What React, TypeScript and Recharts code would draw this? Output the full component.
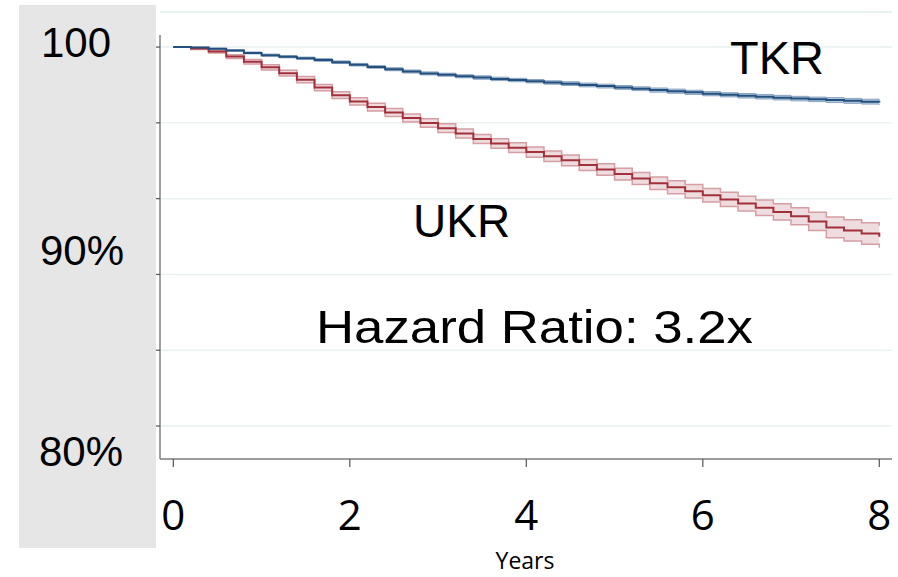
import React from 'react';
import {
  ComposedChart,
  Area,
  Line,
  XAxis,
  YAxis,
  CartesianGrid,
  ReferenceLine,
} from 'recharts';

// Follow-up time (years)
const years = [
  0, 0.2, 0.4, 0.6, 0.8, 1.0, 1.2, 1.4, 1.6, 1.8, 2.0, 2.2, 2.4, 2.6, 2.8, 3.0, 3.2, 3.4, 3.6, 3.8, 4.0,
  4.2, 4.4, 4.6, 4.8, 5.0, 5.2, 5.4, 5.6, 5.8, 6.0, 6.2, 6.4, 6.6, 6.8, 7.0, 7.2, 7.4, 7.6, 7.8, 8.0,
];

// Implant survival (%) – total knee replacement
const tkrSurvival = [
  100, 99.97, 99.91, 99.82, 99.69, 99.57, 99.49, 99.41, 99.32, 99.2, 99.07, 98.95, 98.83, 98.71, 98.61,
  98.54, 98.46, 98.39, 98.32, 98.26, 98.2, 98.13, 98.07, 98.0, 97.94, 97.87, 97.8, 97.73, 97.67, 97.61,
  97.54, 97.48, 97.43, 97.38, 97.33, 97.28, 97.24, 97.2, 97.16, 97.12, 97.08,
];
const tkrLower = [
  100, 99.95, 99.88, 99.78, 99.64, 99.51, 99.43, 99.35, 99.25, 99.13, 99.0, 98.88, 98.75, 98.63, 98.53,
  98.46, 98.38, 98.3, 98.23, 98.17, 98.11, 98.04, 97.97, 97.9, 97.84, 97.77, 97.7, 97.62, 97.56, 97.5,
  97.43, 97.37, 97.31, 97.26, 97.21, 97.16, 97.12, 97.07, 97.03, 96.99, 96.95,
];
const tkrUpper = [
  100, 99.99, 99.94, 99.86, 99.74, 99.63, 99.55, 99.47, 99.39, 99.27, 99.14, 99.02, 98.91, 98.79, 98.69,
  98.62, 98.54, 98.48, 98.41, 98.35, 98.29, 98.22, 98.17, 98.1, 98.04, 97.97, 97.9, 97.84, 97.78, 97.72,
  97.65, 97.59, 97.55, 97.5, 97.45, 97.4, 97.36, 97.33, 97.29, 97.25, 97.21,
];

// Implant survival (%) – unicompartmental knee replacement
const ukrSurvival = [
  100, 99.92, 99.76, 99.5, 99.22, 98.93, 98.62, 98.28, 97.86, 97.46, 97.13, 96.83, 96.55, 96.26, 95.99,
  95.72, 95.44, 95.15, 94.91, 94.69, 94.46, 94.24, 94.02, 93.78, 93.54, 93.3, 93.06, 92.81, 92.6, 92.39,
  92.18, 91.96, 91.74, 91.52, 91.3, 91.07, 90.8, 90.48, 90.32, 90.16, 89.99,
];
const ukrLower = [
  100, 99.87, 99.68, 99.4, 99.1, 98.79, 98.47, 98.12, 97.69, 97.28, 96.94, 96.63, 96.34, 96.05, 95.77,
  95.49, 95.2, 94.91, 94.66, 94.43, 94.19, 93.96, 93.74, 93.49, 93.24, 92.99, 92.74, 92.48, 92.26, 92.04,
  91.82, 91.58, 91.35, 91.11, 90.87, 90.62, 90.32, 89.93, 89.76, 89.59, 89.41,
];
const ukrUpper = [
  100, 99.97, 99.84, 99.6, 99.34, 99.07, 98.77, 98.44, 98.03, 97.64, 97.32, 97.03, 96.76, 96.47, 96.21,
  95.95, 95.68, 95.39, 95.16, 94.95, 94.73, 94.52, 94.3, 94.07, 93.84, 93.61, 93.38, 93.14, 92.94, 92.74,
  92.54, 92.34, 92.13, 91.93, 91.73, 91.52, 91.28, 91.03, 90.88, 90.73, 90.57,
];

const xTicks = [0, 2, 4, 6, 8];
const yTicks = [80, 84, 88, 92, 96, 100];
const yPanelLabels = ['100', '90%', '80%'];
const seriesLabels = ['TKR', 'UKR'];
const hazardText = 'Hazard Ratio: 3.2x';
const xTitle = 'Years';

// Axis extents
const X_MIN = -0.151;
const X_MAX = 8.144;
const Y_MIN = 78.26;
const Y_MAX = 101.85;
const Y_AXIS_TOP = 100.63;

const rows = years.map((t, i) => ({
  t,
  tkr: tkrSurvival[i],
  tkrBand: [tkrLower[i], tkrUpper[i]],
  ukr: ukrSurvival[i],
  ukrBand: [ukrLower[i], ukrUpper[i]],
}));

const GRID = '#e9f1f1';
const AXIS = '#808080';
const TKR_LINE = '#24507f';
const TKR_BAND = '#b3c6da';
const TKR_EDGE = '#8aa4c0';
const UKR_LINE = '#a2303b';
const UKR_BAND = '#eedcde';
const UKR_EDGE = '#d49ea4';

const XTick = (props: any) => {
  const { x, y, payload } = props;
  return (
    <text
      x={x}
      y={y + 61}
      textAnchor="middle"
      fontFamily="'Open Sans', sans-serif"
      fontSize={42}
      fill="#000"
    >
      {payload.value}
    </text>
  );
};

const EmptyTick = () => <g />;

export default function App() {
  return (
    <div style={{ position: 'absolute', left: 0, top: 0, width: 898, height: 577, background: '#fff' }}>
      <div
        style={{
          position: 'absolute',
          left: 19,
          top: 5,
          width: 137,
          height: 543,
          background: '#e6e6e6',
        }}
      />
      <div style={{ position: 'absolute', left: 0, top: 0 }}>
        <ComposedChart
          width={898}
          height={577}
          data={rows}
          margin={{ top: 12, right: 6, left: 0, bottom: 0 }}
        >
          <CartesianGrid horizontal vertical={false} stroke={GRID} strokeWidth={1.5} />
          <XAxis
            dataKey="t"
            type="number"
            domain={[X_MIN, X_MAX]}
            ticks={xTicks}
            allowDataOverflow
            height={118}
            stroke={AXIS}
            axisLine={{ stroke: AXIS, strokeWidth: 1.5 }}
            tickLine={{ stroke: '#555', strokeWidth: 1.2 }}
            tickSize={8}
            tick={<XTick />}
          />
          <YAxis
            type="number"
            domain={[Y_MIN, Y_MAX]}
            ticks={yTicks}
            allowDataOverflow
            width={160}
            axisLine={false}
            tickLine={{ stroke: '#555', strokeWidth: 1.2 }}
            tickSize={4}
            tick={<EmptyTick />}
          />
          <ReferenceLine y={Y_MAX} stroke={GRID} strokeWidth={1.5} ifOverflow="visible" />
          <ReferenceLine
            segment={[
              { x: X_MIN, y: Y_MIN },
              { x: X_MIN, y: Y_AXIS_TOP },
            ]}
            stroke={AXIS}
            strokeWidth={1.5}
            ifOverflow="visible"
          />
          <Area
            dataKey="ukrBand"
            type="stepAfter"
            fill={UKR_BAND}
            fillOpacity={1}
            stroke={UKR_EDGE}
            strokeWidth={1.5}
            isAnimationActive={false}
            dot={false}
            activeDot={false}
          />
          <Area
            dataKey="tkrBand"
            type="stepAfter"
            fill={TKR_BAND}
            fillOpacity={1}
            stroke={TKR_EDGE}
            strokeWidth={1}
            isAnimationActive={false}
            dot={false}
            activeDot={false}
          />
          <Line
            dataKey="ukr"
            type="stepAfter"
            stroke={UKR_LINE}
            strokeWidth={2}
            dot={false}
            activeDot={false}
            isAnimationActive={false}
          />
          <Line
            dataKey="tkr"
            type="stepAfter"
            stroke={TKR_LINE}
            strokeWidth={2}
            dot={false}
            activeDot={false}
            isAnimationActive={false}
          />
        </ComposedChart>
      </div>
      <svg
        width={898}
        height={577}
        style={{ position: 'absolute', left: 0, top: 0, pointerEvents: 'none' }}
      >
        <g fontFamily="'Liberation Sans', Arial, sans-serif" fill="#000">
          <text x={41} y={57} fontSize={42}>{yPanelLabels[0]}</text>
          <text x={40} y={265} fontSize={42}>{yPanelLabels[1]}</text>
          <text x={39} y={466} fontSize={42}>{yPanelLabels[2]}</text>
          <text x={730} y={74} fontSize={47}>{seriesLabels[0]}</text>
          <text x={413} y={237} fontSize={46}>{seriesLabels[1]}</text>
          <text x={316} y={343} fontSize={46} textLength={437} lengthAdjust="spacingAndGlyphs">
            {hazardText}
          </text>
        </g>
        <text
          x={525}
          y={569}
          textAnchor="middle"
          fontFamily="'Open Sans', sans-serif"
          fontSize={23}
          fill="#000"
        >
          {xTitle}
        </text>
      </svg>
    </div>
  );
}
